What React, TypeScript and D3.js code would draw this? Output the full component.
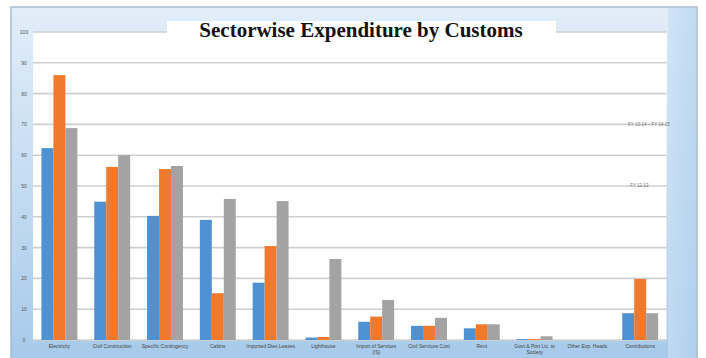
import React from "react";
import * as d3 from "d3";

const categories = [
  "Electricity",
  "Civil Construction",
  "Specific Contingency",
  "Cabins",
  "Imported Dies Leases",
  "Lighthouse",
  "Import of Services|(IS)",
  "Civil Services Cost",
  "Rent",
  "Govt & Port Lic. to|Society",
  "Other Exp. Heads",
  "Contributions",
];
const seriesNames = ["2012-13", "2013-14", "2014-15"];
const series1 = [62.3, 44.9, 40.3, 39.0, 18.6, 0.8, 5.9, 4.6, 3.8, 0.3, 0, 8.7];
const series2 = [86.0, 56.2, 55.5, 15.2, 30.5, 1.0, 7.6, 4.6, 5.1, 0.3, 0, 19.8];
const series3 = [68.8, 60.0, 56.5, 45.8, 45.1, 26.3, 13.0, 7.2, 5.1, 1.2, 0, 8.7];
const yTicks = [0, 10, 20, 30, 40, 50, 60, 70, 80, 90, 100];
const colors = ["#4f92d3", "#ef7a2e", "#a3a3a3"];

export default function App() {
  const W = 706;
  const H = 358;
  const left = 33;
  const right = 666.6;
  const top = 32;
  const bottom = 340;

  const x0 = d3
    .scaleBand<string>()
    .domain(categories)
    .range([left, right])
    .paddingInner(0.32)
    .paddingOuter(0.16);
  const x1 = d3
    .scaleBand<string>()
    .domain(seriesNames)
    .range([0, x0.bandwidth()])
    .padding(0);
  const y = d3.scaleLinear().domain([0, 100]).range([bottom, top]);
  const data = [series1, series2, series3];

  return (
    <svg
      width={W}
      height={H}
      style={{ position: "absolute", left: 0, top: 0, background: "#fff" }}
    >
      <defs>
        <linearGradient id="bg" x1="0" y1="0" x2="0" y2="1">
          <stop offset="0" stopColor="#e2eef9" />
          <stop offset="1" stopColor="#a6c9ea" />
        </linearGradient>
        <linearGradient id="rs" x1="0" y1="0" x2="1" y2="0">
          <stop offset="0" stopColor="#c9dff4" />
          <stop offset="1" stopColor="#b3d2ef" />
        </linearGradient>
      </defs>
      <rect x={11} y={7} width={686} height={360} fill="url(#bg)" stroke="#a9bccf" strokeWidth={1.5} />
      <rect x={668} y={8} width={28} height={359} fill="url(#rs)" opacity={0.7} />
      <rect x={left} y={top} width={right - left} height={bottom - top} fill="#ffffff" />
      {yTicks.map((t) => (
        <g key={t}>
          <line
            x1={left}
            x2={right}
            y1={y(t)}
            y2={y(t)}
            stroke="#cfcfcf"
            strokeWidth={1.6}
          />
          <text
            x={24}
            y={y(t) + 2}
            fontSize={5}
            textAnchor="middle"
            fill="#555"
            fontFamily="Liberation Sans, Arial, sans-serif"
          >
            {t}
          </text>
        </g>
      ))}
      <rect x={167} y={21} width={389} height={13} fill="#ffffff" />
      <text
        x={361}
        y={37}
        textAnchor="middle"
        fontSize={21}
        fontWeight="bold"
        fontFamily="Liberation Serif, Times New Roman, serif"
        fill="#111"
      >
        Sectorwise Expenditure by Customs
      </text>
      {categories.map((c, i) => (
        <g key={c} transform={`translate(${x0(c)},0)`}>
          {seriesNames.map((s, j) => (
            <rect
              key={s}
              x={x1(s)}
              y={y(data[j][i])}
              width={x1.bandwidth()}
              height={bottom - y(data[j][i])}
              fill={colors[j]}
            />
          ))}
          {c.split("|").map((part, k) => (
            <text
              key={k}
              x={x0.bandwidth() / 2}
              y={348 + k * 6}
              fontSize={5}
              textAnchor="middle"
              fill="#444"
              fontFamily="Liberation Sans, Arial, sans-serif"
            >
              {part}
            </text>
          ))}
        </g>
      ))}
      <text x={628} y={126} fontSize={4.5} fill="#777" fontFamily="Liberation Sans, Arial, sans-serif">
        FY 13-14 – FY 14-15
      </text>
      <text x={630} y={187} fontSize={4.5} fill="#777" fontFamily="Liberation Sans, Arial, sans-serif">
        FY 12-13
      </text>
    </svg>
  );
}
